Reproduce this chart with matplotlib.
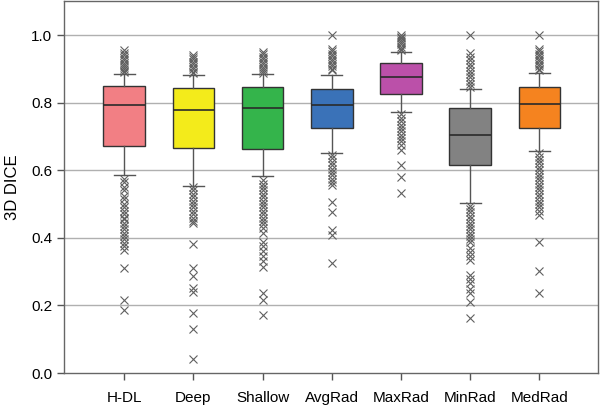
import matplotlib
matplotlib.use("Agg")
import matplotlib.pyplot as plt

plt.rcParams['font.family'] = ['Liberation Sans', 'DejaVu Sans']

categories = ["H-DL", "Deep", "Shallow", "AvgRad", "MaxRad", "MinRad", "MedRad"]
colors = ["#f27f84", "#f3eb1b", "#34b44b", "#3a72b8", "#bb50a9", "#828282", "#f5831f"]

q1 = [0.672, 0.665, 0.663, 0.726, 0.826, 0.615, 0.725]
med = [0.792, 0.777, 0.785, 0.792, 0.875, 0.704, 0.796]
q3 = [0.848, 0.844, 0.846, 0.839, 0.916, 0.783, 0.845]
whislo = [0.586, 0.554, 0.583, 0.652, 0.772, 0.502, 0.657]
whishi = [0.885, 0.882, 0.885, 0.882, 0.951, 0.839, 0.888]

fliers_hdl = [0.955, 0.948, 0.94, 0.932, 0.925, 0.918, 0.912, 0.906, 0.90, 0.895, 0.89,
              0.575, 0.565, 0.55, 0.54, 0.525, 0.515, 0.50, 0.49, 0.48, 0.47, 0.46, 0.455,
              0.445, 0.435, 0.425, 0.415, 0.405, 0.395, 0.385, 0.375, 0.365, 0.31, 0.216, 0.186]
fliers_deep = [0.941, 0.935, 0.928, 0.92, 0.913, 0.905, 0.898, 0.892, 0.887,
               0.55, 0.54, 0.53, 0.52, 0.51, 0.50, 0.49, 0.48, 0.47, 0.46, 0.45, 0.444,
               0.382, 0.31, 0.288, 0.251, 0.239, 0.177, 0.13, 0.041]
fliers_shallow = [0.951, 0.943, 0.935, 0.928, 0.92, 0.913, 0.906, 0.90, 0.894, 0.889,
                  0.571, 0.56, 0.55, 0.54, 0.53, 0.52, 0.51, 0.50, 0.49, 0.48, 0.47, 0.46,
                  0.45, 0.44, 0.43, 0.414, 0.388, 0.375, 0.36, 0.345, 0.33, 0.314,
                  0.236, 0.216, 0.172]
fliers_avg = [1.0, 0.96, 0.952, 0.945, 0.938, 0.93, 0.922, 0.915, 0.908, 0.90, 0.896,
              0.645, 0.635, 0.625, 0.615, 0.605, 0.595, 0.585, 0.575, 0.565, 0.556,
              0.507, 0.475, 0.423, 0.408, 0.326]
fliers_max = [1.0, 0.995, 0.99, 0.985, 0.978, 0.972, 0.966, 0.96, 0.955,
              0.765, 0.755, 0.745, 0.735, 0.725, 0.715, 0.705, 0.695, 0.685, 0.675, 0.66,
              0.615, 0.581, 0.532]
fliers_min = [1.0, 0.946, 0.935, 0.925, 0.915, 0.905, 0.895, 0.885, 0.875, 0.865, 0.855, 0.845,
              0.495, 0.485, 0.475, 0.465, 0.455, 0.445, 0.435, 0.425, 0.415, 0.405, 0.395, 0.388,
              0.37, 0.358, 0.346, 0.334, 0.29, 0.278, 0.265, 0.25, 0.237, 0.211, 0.162]
fliers_med = [1.0, 0.96, 0.952, 0.945, 0.938, 0.93, 0.922, 0.915, 0.908, 0.90, 0.896,
              0.65, 0.64, 0.63, 0.62, 0.61, 0.60, 0.59, 0.58, 0.57, 0.56, 0.55, 0.54,
              0.53, 0.52, 0.51, 0.50, 0.49, 0.48, 0.467, 0.387, 0.303, 0.238]
fliers = [fliers_hdl, fliers_deep, fliers_shallow, fliers_avg, fliers_max, fliers_min, fliers_med]

stats = []
for i, c in enumerate(categories):
    stats.append(dict(label=c, q1=q1[i], med=med[i], q3=q3[i],
                      whislo=whislo[i], whishi=whishi[i], fliers=fliers[i]))

fig = plt.figure(figsize=(6.0, 4.05), dpi=100)
ax = fig.add_axes([0.107, 0.079, 0.89, 0.918])

positions = list(range(1, len(categories) + 1))
bp = ax.bxp(stats, positions=positions, widths=0.6, patch_artist=True,
            boxprops=dict(edgecolor="#333333", linewidth=1.0),
            medianprops=dict(color="#2a2a2a", linewidth=1.2),
            whiskerprops=dict(color="#555555", linewidth=1.0),
            capprops=dict(color="#555555", linewidth=1.0),
            capwidths=0.3,
            flierprops=dict(marker="x", markersize=6, markeredgecolor="#606060",
                            markeredgewidth=0.8, linestyle="none"))
for patch, col in zip(bp["boxes"], colors):
    patch.set_facecolor(col)

for y in [0.2, 0.4, 0.6, 0.8, 1.0]:
    ax.axhline(y, color="#b0b0b0", linewidth=1.0, zorder=0)

ax.set_xlim(0.134, 7.85)
ax.set_ylim(0, 1.10)
ax.set_yticks([0.0, 0.2, 0.4, 0.6, 0.8, 1.0])
ax.set_yticklabels(["0.0", "0.2", "0.4", "0.6", "0.8", "1.0"])
ax.set_xticks(positions)
ax.set_xticklabels(categories)
ax.tick_params(axis="both", labelsize=11, color="#555555", length=5, width=1)
ax.tick_params(axis="x", pad=8)
ax.set_ylabel("3D DICE", fontsize=12, labelpad=8)
for s in ax.spines.values():
    s.set_color("#666666")
    s.set_linewidth(1.0)

fig.savefig("out.png", dpi=100)
